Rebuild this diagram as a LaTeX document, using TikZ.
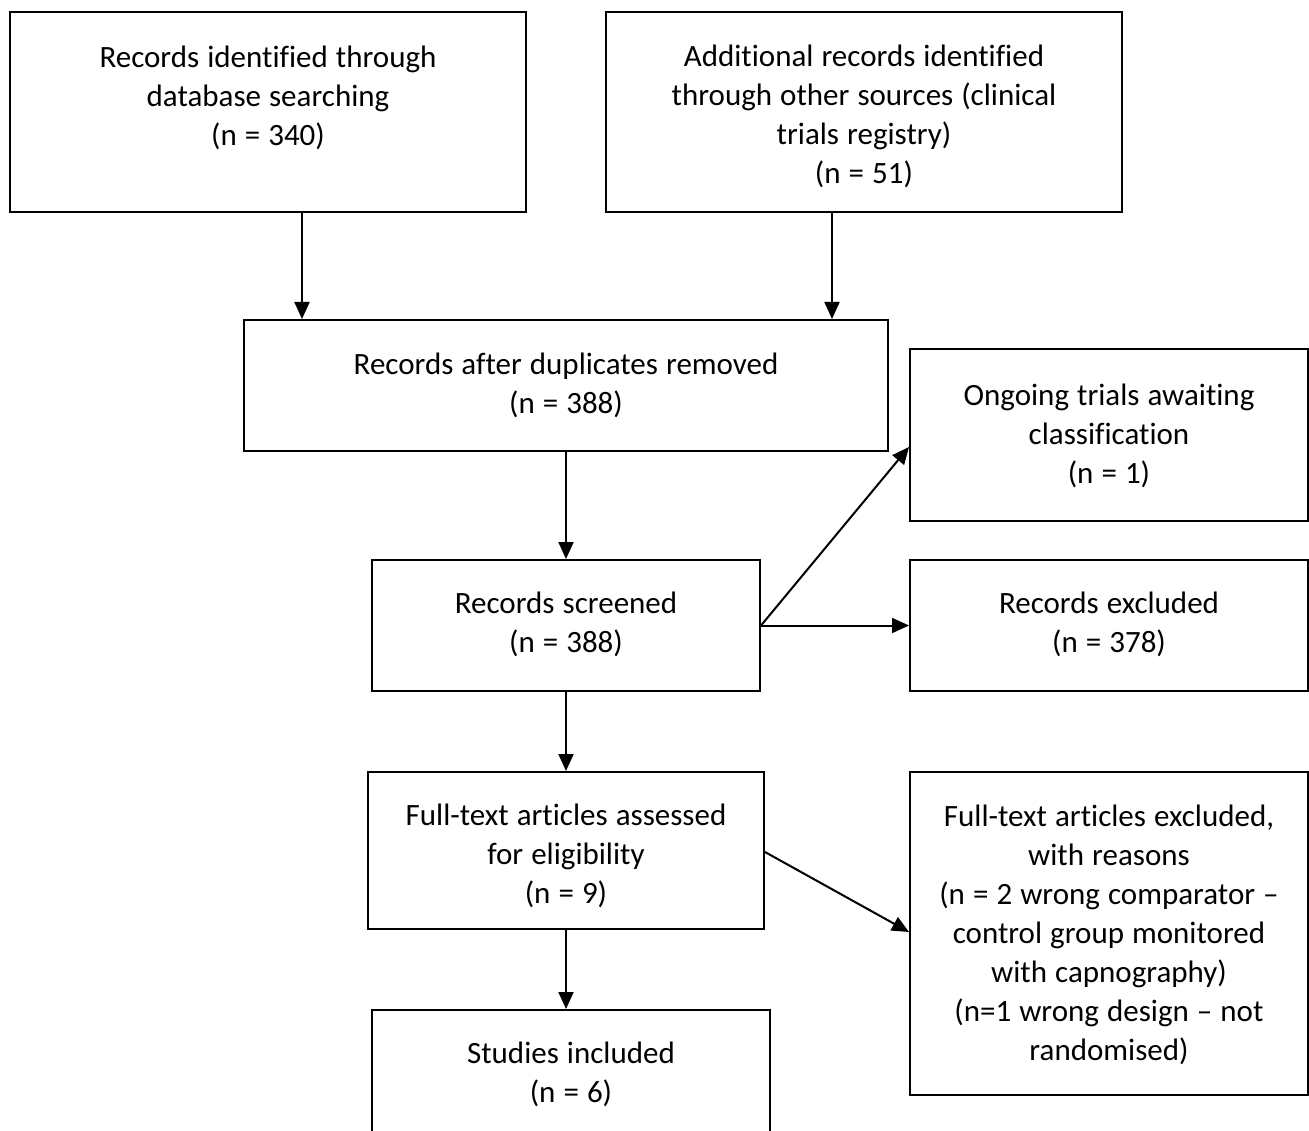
\documentclass[tikz,border=0pt]{standalone}
\usepackage{fontspec}
\setmainfont{Carlito}[Ligatures=CommonOff,WordSpace=1.15]
\usetikzlibrary{arrows.meta}
\begin{document}
\begin{tikzpicture}[x=1pt,y=-1pt,
  boxst/.style={draw,line width=2pt,inner sep=0pt,rectangle},
  txt/.style={align=center,inner sep=0pt,font=\fontsize{31}{39}\selectfont},
  arr/.style={line width=2pt,-{Triangle[length=17pt,width=15pt]}}]
\useasboundingbox (0,0) rectangle (1309,1131);
\clip (0,0) rectangle (1309,1131);
\fill[white] (0,0) rectangle (1309,1131);
% boxes
\node[boxst,minimum width=516pt,minimum height=200pt] (b1) at (268,112) {};
\node[boxst,minimum width=516pt,minimum height=200pt] (b2) at (864,112) {};
\node[boxst,minimum width=644pt,minimum height=131pt] (b3) at (566,385.5) {};
\node[boxst,minimum width=398pt,minimum height=172pt] (b4) at (1109,435) {};
\node[boxst,minimum width=388pt,minimum height=131pt] (b5) at (566,625.5) {};
\node[boxst,minimum width=398pt,minimum height=131pt] (b6) at (1109,625.5) {};
\node[boxst,minimum width=396pt,minimum height=157pt] (b7) at (566,850.5) {};
\node[boxst,minimum width=398pt,minimum height=323pt] (b8) at (1109,933.5) {};
\node[boxst,minimum width=398pt,minimum height=150pt] (b9) at (571,1085) {};
% texts
\node[txt] (t1) at (268,98) {Records identified through\\database searching\\(n = 340)};
\node[txt] (t2) at (864,116.5) {Additional records identified\\through other sources (clinical\\trials registry)\\(n = 51)};
\node[txt] (t3) at (566,385.5) {Records after duplicates removed\\(n = 388)};
\node[txt] (t4) at (1109,436) {Ongoing trials awaiting\\classification\\(n = 1)};
\node[txt] (t5) at (566,624) {Records screened\\(n = 388)};
\node[txt] (t6) at (1109,624) {Records excluded\\(n = 378)};
\node[txt] (t7) at (566,856) {Full-text articles assessed\\for eligibility\\(n = 9)};
\node[txt] (t8) at (1109,935) {Full-text articles excluded,\\with reasons\\(n = 2 wrong comparator –\\control group monitored\\with capnography)\\(n=1 wrong design – not\\randomised)};
\node[txt] (t9) at (571,1074) {Studies included\\(n = 6)};
% connectors
\draw[arr] (b1.south -| 302,0) -- (b3.north -| 302,0);
\draw[arr] (b2.south -| 832,0) -- (b3.north -| 832,0);
\draw[arr] (b3.south) -- (b5.north);
\draw[arr] (b5.east) -- (b4.west |- 0,447);
\draw[arr] (b5.east) -- (b6.west);
\draw[arr] (b5.south) -- (b7.north);
\draw[arr] (b7.east |- 0,852) -- (b8.west |- 0,932);
\draw[arr] (b7.south) -- (b7.south |- b9.north);
\end{tikzpicture}
\end{document}
